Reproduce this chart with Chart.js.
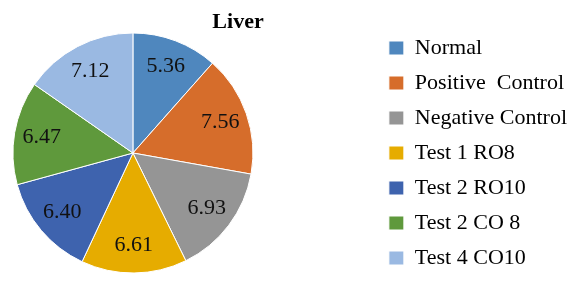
<!DOCTYPE html>
<html>
<head>
<meta charset="utf-8">
<script src="https://cdn.jsdelivr.net/npm/chart.js@4"></script>
<style>
  html, body { margin: 0; padding: 0; background: #fff; overflow: hidden; }
  #wrap { width: 587px; height: 290px; position: relative; overflow: hidden; }
  /* canvas is wider than the page and pulled left so the pie sits near the left edge */
  #myChart { position: absolute; left: -110px; top: 0; }
</style>
</head>
<body>
<div id="wrap"><canvas id="myChart" width="697" height="290"></canvas></div>
<script>
const chartTitle = 'Liver';
const groups = ['Normal', 'Positive  Control', 'Negative Control', 'Test 1 RO8', 'Test 2 RO10', 'Test 2 CO 8', 'Test 4 CO10'];
const liverValues = [5.36, 7.56, 6.93, 6.61, 6.40, 6.47, 7.12];
const sliceColors = ['#4f87be', '#d66d2b', '#959595', '#e6ac00', '#3e63ae', '#5f993c', '#9ab9e2'];

const serif = '"Liberation Serif", "Times New Roman", serif';

// title drawn between pie and legend, like the original
const titlePlugin = {
    id: 'sideTitle',
    afterDraw(chart) {
        const ctx = chart.ctx;
        ctx.save();
        ctx.font = 'bold 22px ' + serif;
        ctx.fillStyle = '#000';
        ctx.textAlign = 'center';
        ctx.textBaseline = 'middle';
        ctx.fillText(chartTitle, 348, 22);
        ctx.restore();
    }
};

// value labels inside each slice
const valueLabels = {
    id: 'valueLabels',
    afterDatasetsDraw(chart) {
        const ctx = chart.ctx;
        const meta = chart.getDatasetMeta(0);
        ctx.save();
        ctx.font = '22px ' + serif;
        ctx.fillStyle = '#111';
        ctx.textAlign = 'center';
        ctx.textBaseline = 'middle';
        meta.data.forEach((arc, i) => {
            const mid = (arc.startAngle + arc.endAngle) / 2;
            const r = arc.outerRadius * 0.77;
            ctx.fillText(liverValues[i].toFixed(2), arc.x + Math.cos(mid) * r, arc.y + Math.sin(mid) * r);
        });
        ctx.restore();
    }
};

const graph = document.querySelector('#myChart');

const pieChart = new Chart(graph, {
    type: 'pie',
    data: {
        labels: groups,
        datasets: [{
            data: liverValues,
            backgroundColor: sliceColors,
            borderColor: '#ffffff',
            borderWidth: 1,
            radius: 120
        }]
    },
    options: {
        responsive: false,
        devicePixelRatio: 1,
        animation: false,
        layout: {
            padding: { left: 0, right: 10, top: 16, bottom: 0 }
        },
        plugins: {
            tooltip: { enabled: false },
            title: { display: false },
            legend: {
                position: 'right',
                align: 'center',
                labels: {
                    boxWidth: 15,
                    boxHeight: 14,
                    padding: 13,
                    color: '#000',
                    font: { family: serif, size: 22 }
                }
            }
        }
    },
    plugins: [valueLabels, titlePlugin]
});
</script>
</body>
</html>
